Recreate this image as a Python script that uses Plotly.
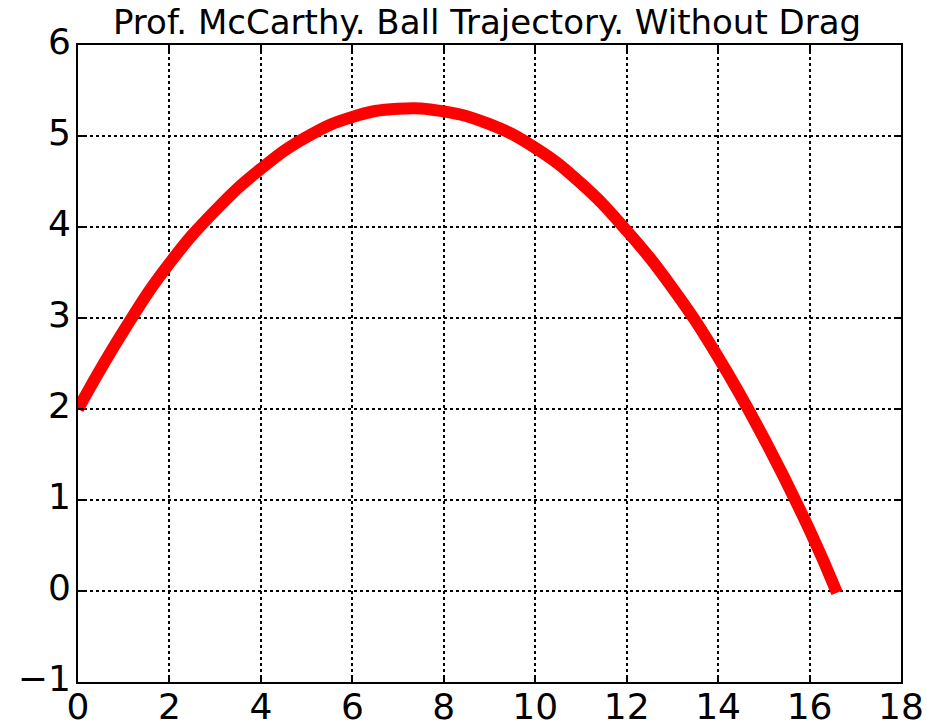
import plotly.graph_objects as go

# Trajectory readings (x in m, height in m)
x_vals = [0, 1, 2, 3, 4, 5, 6, 7, 8, 9, 10, 11, 12, 13, 14, 15, 16, 16.6]
y_vals = [2.00, 2.86, 3.60, 4.18, 4.64, 4.99, 5.21, 5.30, 5.27, 5.13, 4.87, 4.48, 3.96, 3.33, 2.57, 1.68, 0.67, -0.02]

x_ticks = [0, 2, 4, 6, 8, 10, 12, 14, 16, 18]
y_ticks = [-1, 0, 1, 2, 3, 4, 5, 6]

title_text = "Prof. McCarthy. Ball Trajectory. Without Drag"

fig = go.Figure()
fig.add_trace(go.Scatter(
    x=x_vals, y=y_vals, mode="lines",
    line=dict(color="#ff0000", width=12, shape="spline", smoothing=1.3),
    showlegend=False,
))

axis_common = dict(
    showgrid=True, gridcolor="black", gridwidth=2, griddash="dot",
    zeroline=False, showline=True, linecolor="black", linewidth=2,
    mirror="ticks", ticks="inside", ticklen=6, tickwidth=1.5, tickcolor="black",
    tickfont=dict(family="DejaVu Sans", size=36, color="black"),
    automargin=False,
)

fig.update_layout(
    width=927, height=727,
    margin=dict(l=78, r=26, t=45, b=45),
    paper_bgcolor="white", plot_bgcolor="white",
    title=dict(text=title_text, x=0.497, xanchor="center", xref="paper",
               y=1 - 22 / 727, yref="container", yanchor="middle",
               font=dict(family="DejaVu Sans", size=34, color="black")),
    xaxis=dict(range=[0, 18], tickvals=x_ticks, ticklabelstandoff=-8, **axis_common),
    yaxis=dict(range=[-1, 6], tickvals=y_ticks, ticklabelstandoff=-2,
               ticklabelshift=-4, **axis_common),
)

fig.write_html("out.html")
